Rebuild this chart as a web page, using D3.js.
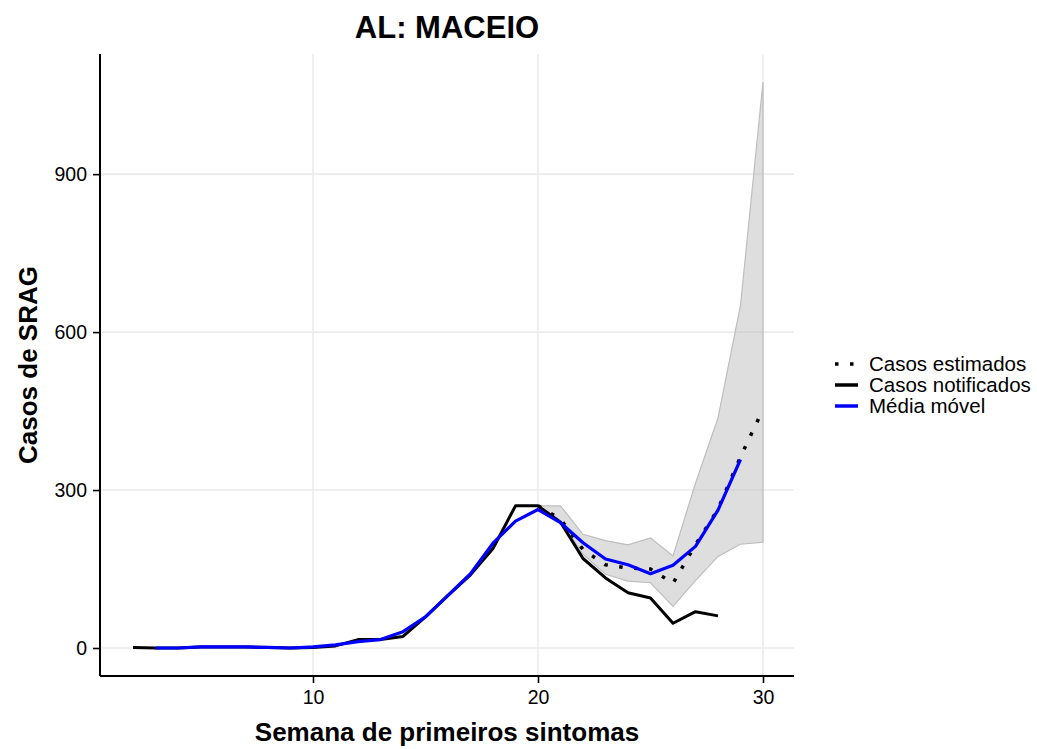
<!DOCTYPE html>
<html>
<head>
<meta charset="utf-8">
<script src="https://cdn.jsdelivr.net/npm/d3@7"></script>
<style>
  html, body { margin: 0; padding: 0; background: #fff; }
  svg { display: block; font-family: "Liberation Sans", Arial, Helvetica, sans-serif; }
</style>
</head>
<body>
<svg id="chart" width="1037" height="749"></svg>
<script>
// ---- data ----
const title = "AL: MACEIO";
const xLabel = "Semana de primeiros sintomas";
const yLabel = "Casos de SRAG";

const notifiedWeeks = [2,3,4,5,6,7,8,9,10,11,12,13,14,15,16,17,18,19,20,21,22,23,24,25,26,27,28];
const notifiedValues = [1,0,0,2,2,2,1,0,1,4,16,16,22,59,100,139,189,270,270,239,170,133,105,95,47,69,61];

const movAvgWeeks = [3,4,5,6,7,8,9,10,11,12,13,14,15,16,17,18,19,20,21,22,23,24,25,26,27,28,29];
const movAvgValues = [0,0,2,2,2,1,0,2,6,12,16,31,59,100,141,199,241,263,238,200,169,158,141,157,193,262,358];

const estWeeks = [20,21,22,23,24,25,26,27,28,29,30];
const estValues = [270,245,187,158,152,150,123,196,264,363,453];
const estLower  = [270,242,178,140,127,124,79,128,174,197,201];
const estUpper  = [270,270,216,204,196,209,175,313,437,651,1075];

const xTicks = [10,20,30];
const yTicks = [0,300,600,900];

const legendLabels = ["Casos estimados","Casos notificados","Média móvel"];

// ---- layout ----
const svg = d3.select("#chart");
const panel = {left: 100, right: 794, top: 54, bottom: 676};
const FONT = "Liberation Sans, Arial, Helvetica, sans-serif";

const xMin = 2, xMax = 30;
const xPad = (xMax - xMin) * 0.05;
const x = d3.scaleLinear().domain([xMin - xPad, xMax + xPad]).range([101.5, 794.5]);

const yMinV = 0, yMaxV = d3.max(estUpper);
const yPad = (yMaxV - yMinV) * 0.05;
const y = d3.scaleLinear().domain([yMinV - yPad, yMaxV + yPad]).range([676.3, 53.7]);

// gridlines
const grid = svg.append("g");
grid.selectAll("line.gx").data(xTicks).enter().append("line")
  .attr("x1", d => x(d)).attr("x2", d => x(d))
  .attr("y1", panel.top).attr("y2", panel.bottom)
  .attr("stroke", "#ebebeb").attr("stroke-width", 1.6);
grid.selectAll("line.gy").data(yTicks).enter().append("line")
  .attr("x1", panel.left).attr("x2", panel.right)
  .attr("y1", d => y(d)).attr("y2", d => y(d))
  .attr("stroke", "#ebebeb").attr("stroke-width", 1.6);

// ribbon
const est = estWeeks.map((w, i) => ({w, v: estValues[i], lo: estLower[i], hi: estUpper[i]}));
const area = d3.area().x(d => x(d.w)).y0(d => y(d.lo)).y1(d => y(d.hi));
svg.append("path").datum(est).attr("d", area)
  .attr("fill", "#bebebe").attr("fill-opacity", 0.5)
  .attr("stroke", "#bebebe").attr("stroke-width", 1.2);

const line = d3.line().x(d => x(d.w)).y(d => y(d.v));

// estimated (dotted)
svg.append("path").datum(est).attr("d", line)
  .attr("fill", "none").attr("stroke", "#000").attr("stroke-width", 3.5)
  .attr("stroke-dasharray", "3.5 11.5").attr("stroke-linecap", "butt");

// notified
const notified = notifiedWeeks.map((w, i) => ({w, v: notifiedValues[i]}));
svg.append("path").datum(notified).attr("d", line)
  .attr("fill", "none").attr("stroke", "#000").attr("stroke-width", 3)
  .attr("stroke-linejoin", "round");

// moving average
const mav = movAvgWeeks.map((w, i) => ({w, v: movAvgValues[i]}));
svg.append("path").datum(mav).attr("d", line)
  .attr("fill", "none").attr("stroke", "#0000ff").attr("stroke-width", 3.2)
  .attr("stroke-linejoin", "round");

// axes
const xAxis = d3.axisBottom(x).tickValues(xTicks).tickSizeInner(7).tickSizeOuter(0).tickPadding(7);
const gx = svg.append("g").attr("transform", `translate(0,${panel.bottom})`).call(xAxis);
gx.attr("font-size", null).attr("font-family", null);
gx.select(".domain").attr("d", `M${panel.left},0H${panel.right}`).attr("stroke", "#000").attr("stroke-width", 2);
gx.selectAll(".tick line").attr("stroke", "#000").attr("stroke-width", 1.6);
gx.selectAll(".tick text").style("font-size", "19.5px").attr("fill", "#000").style("font-family", FONT);

const yAxis = d3.axisLeft(y).tickValues(yTicks).tickSizeInner(7).tickSizeOuter(0).tickPadding(6);
const gy = svg.append("g").attr("transform", `translate(${panel.left},0)`).call(yAxis);
gy.attr("font-size", null).attr("font-family", null);
gy.select(".domain").attr("d", `M0,${panel.top}V${panel.bottom}`).attr("stroke", "#000").attr("stroke-width", 2);
gy.selectAll(".tick line").attr("stroke", "#000").attr("stroke-width", 1.6);
gy.selectAll(".tick text").style("font-size", "19.5px").attr("fill", "#000").style("font-family", FONT);

// title & labels
svg.append("text").attr("x", (panel.left + panel.right) / 2).attr("y", 38)
  .attr("text-anchor", "middle").style("font-size", "31px").attr("font-weight", "bold").text(title);
svg.append("text").attr("x", (panel.left + panel.right) / 2).attr("y", 741)
  .attr("text-anchor", "middle").style("font-size", "26px").attr("font-weight", "bold").text(xLabel);
svg.append("text").attr("transform", `translate(37,${(panel.top + panel.bottom) / 2}) rotate(-90)`)
  .attr("text-anchor", "middle").style("font-size", "26px").attr("font-weight", "bold").text(yLabel);

// legend
const lg = svg.append("g").attr("transform", "translate(834,364)");
const rowH = 21;
legendLabels.forEach((lab, i) => {
  const g = lg.append("g").attr("transform", `translate(0,${i * rowH})`);
  const ln = g.append("line").attr("x1", 1).attr("x2", 24).attr("y1", 0).attr("y2", 0)
    .attr("stroke-width", 3.5);
  if (i === 0) ln.attr("stroke", "#000").attr("stroke-dasharray", "3.5 11.5");
  else if (i === 1) ln.attr("stroke", "#000");
  else ln.attr("stroke", "#0000ff");
  g.append("text").attr("x", 35).attr("y", 0).attr("dy", "0.35em")
    .style("font-size", "20.5px").attr("fill", "#000").text(lab);
});
</script>
</body>
</html>
